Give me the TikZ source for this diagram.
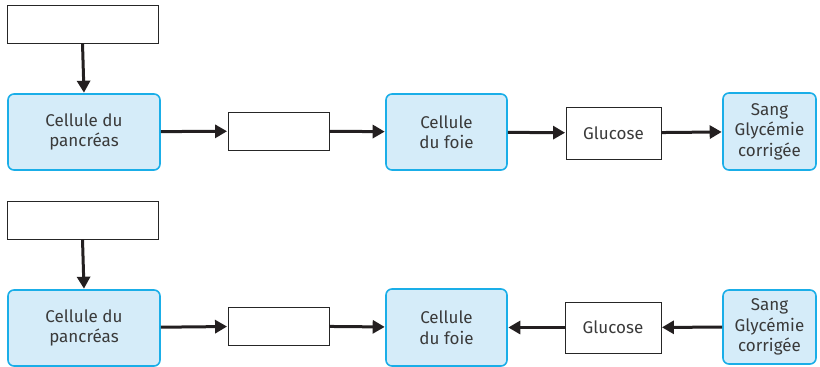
\documentclass[tikz,border=0pt]{standalone}
\usepackage{fontspec}
\setmainfont{Fira Sans}
\usetikzlibrary{arrows.meta}
\definecolor{txt}{HTML}{3A3A3A}
\definecolor{bluefill}{HTML}{D5ECF9}
\definecolor{blueline}{HTML}{1AAEE8}
\definecolor{arr}{HTML}{231F20}
\tikzset{
  cellbox/.style={draw=blueline, fill=bluefill, line width=1.6pt, rounded corners=6pt, text=txt, align=center, font=\fontsize{17}{20.5}\selectfont},
  plainbox/.style={draw=black!85, line width=0.9pt, fill=white, text=txt, font=\fontsize{17}{20.5}\selectfont},
  flow/.style={draw=arr, line width=3pt, -{Triangle[length=12pt,width=13pt]}, shorten >=0.5pt}
}
\newcommand{\bx}[6]{\node[#1, minimum width=#4pt-#2pt, minimum height=#5pt-#3pt, inner sep=0pt] (#6) at ({(#2+#4)/2*1pt},{-(#3+#5)/2*1pt})}
\begin{document}
\begin{tikzpicture}
\useasboundingbox (0,0) rectangle (820pt,-367pt);
% top row
\bx{plainbox}{7}{5}{158}{43}{t0} {};
\bx{cellbox}{8}{94}{160}{170}{t1} {Cellule du\\pancréas};
\bx{plainbox}{228}{112}{329}{150}{t2} {};
\bx{cellbox}{386}{94}{507}{170}{t3} {Cellule\\du foie};
\bx{plainbox}{566}{107}{661}{159}{t4} {Glucose};
\bx{cellbox}{723}{93}{816}{170}{t5} {Sang\\Glycémie\\corrigée};
\draw[flow] (t0.south) -- (t1.north);
\draw[flow] (t1) -- (t2);
\draw[flow] (t2) -- (t3);
\draw[flow] (t3) -- (t4);
\draw[flow] (t4) -- (t5);
% bottom row
\bx{plainbox}{7}{201}{158}{239}{b0} {};
\bx{cellbox}{8}{290}{160}{366}{b1} {Cellule du\\pancréas};
\bx{plainbox}{228}{307}{329}{345}{b2} {};
\bx{cellbox}{386}{289}{507}{366}{b3} {Cellule\\du foie};
\bx{plainbox}{565}{302}{661}{353}{b4} {Glucose};
\bx{cellbox}{723}{290}{816}{364}{b5} {Sang\\Glycémie\\corrigée};
\draw[flow] (b0.south) -- (b1.north);
\draw[flow] (b1) -- (b2);
\draw[flow] (b2) -- (b3);
\draw[flow] (b4) -- (b3);
\draw[flow] (b5) -- (b4);
\end{tikzpicture}
\end{document}
